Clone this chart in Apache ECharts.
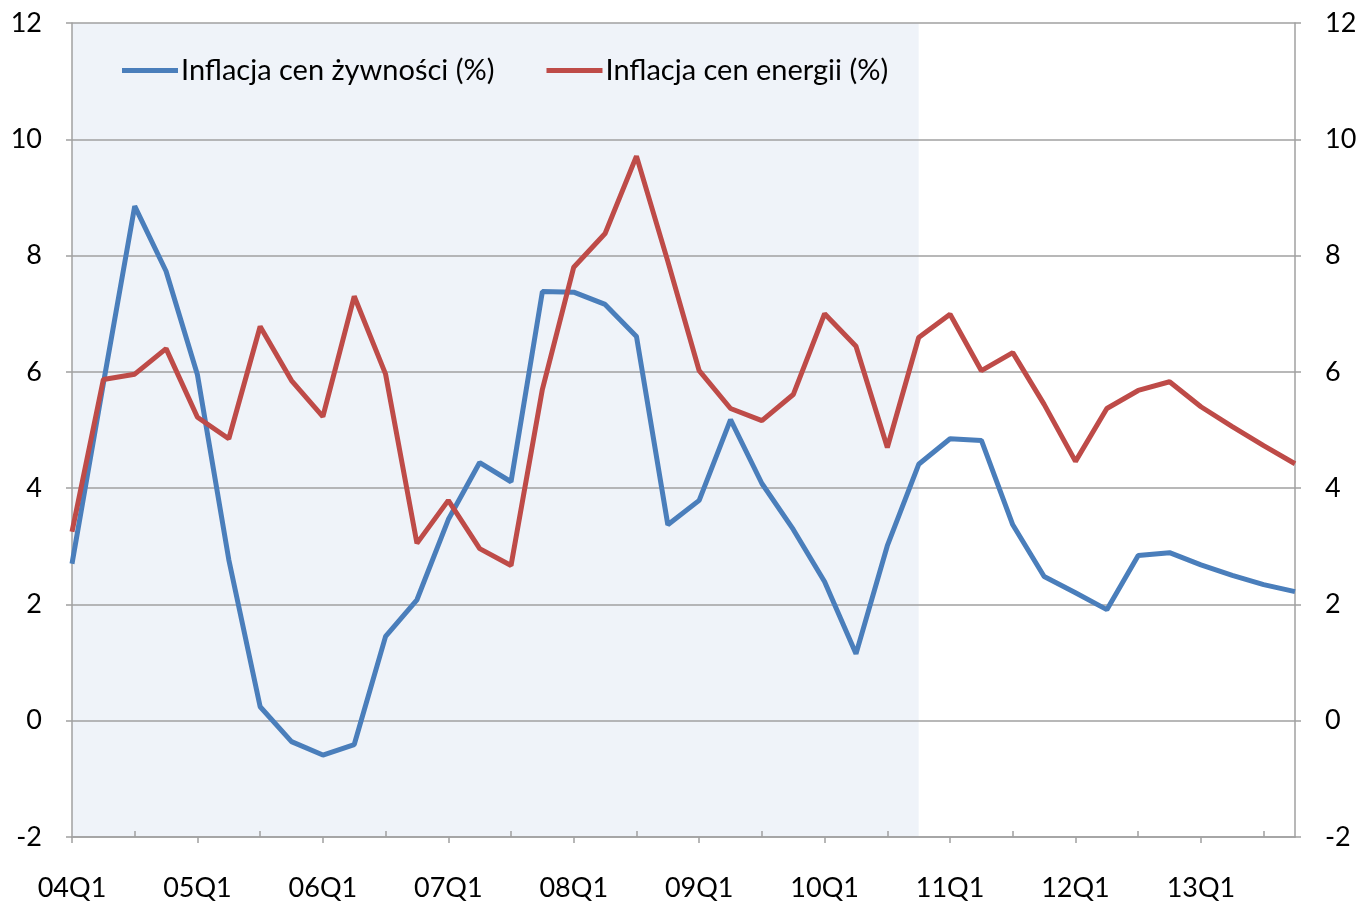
<!DOCTYPE html>
<html>
<head>
<meta charset="utf-8">
<script src="https://cdn.jsdelivr.net/npm/echarts@6/dist/echarts.min.js"></script>
<style>
html,body{margin:0;padding:0;background:#fff;}
#chart{width:1360px;height:904px;}
</style>
</head>
<body>
<div id="chart"></div>
<script>
const quarters = [
  '04Q1','04Q2','04Q3','04Q4','05Q1','05Q2','05Q3','05Q4',
  '06Q1','06Q2','06Q3','06Q4','07Q1','07Q2','07Q3','07Q4',
  '08Q1','08Q2','08Q3','08Q4','09Q1','09Q2','09Q3','09Q4',
  '10Q1','10Q2','10Q3','10Q4','11Q1','11Q2','11Q3','11Q4',
  '12Q1','12Q2','12Q3','12Q4','13Q1','13Q2','13Q3','13Q4'
];
const foodInflation = [
  2.7, 5.8, 8.85, 7.73, 5.95, 2.77, 0.24, -0.36,
  -0.59, -0.41, 1.45, 2.08, 3.46, 4.44, 4.11, 7.38,
  7.37, 7.16, 6.61, 3.37, 3.79, 5.18, 4.08, 3.29,
  2.39, 1.15, 3.01, 4.41, 4.85, 4.82, 3.37, 2.48,
  2.20, 1.91, 2.84, 2.89, 2.68, 2.50, 2.34, 2.22
];
const energyInflation = [
  3.25, 5.87, 5.96, 6.40, 5.22, 4.85, 6.78, 5.85,
  5.23, 7.30, 5.96, 3.05, 3.79, 2.96, 2.67, 5.70,
  7.80, 8.38, 9.71, 7.90, 6.02, 5.37, 5.16, 5.61,
  7.00, 6.44, 4.70, 6.59, 6.99, 6.02, 6.33, 5.44,
  4.46, 5.37, 5.68, 5.83, 5.40, 5.06, 4.73, 4.42
];
const seriesNames = ['Inflacja cen żywności (%)', 'Inflacja cen energii (%)'];
const shadedRange = ['04Q1', '10Q4'];
const yMin = -2, yMax = 12, yStep = 2;

const FONT = 'Lato';
const axisGray = '#a0a0a0';
const chart = echarts.init(document.getElementById('chart'));
chart.setOption({
  animation: false,
  textStyle: { fontFamily: FONT },
  grid: { left: 72, right: 65, top: 23, bottom: 67, containLabel: false },
  legend: {
    data: seriesNames.map(function (n) { return { name: n, icon: 'rect' }; }),
    left: 117, top: 51,
    itemWidth: 56, itemHeight: 5, itemGap: 52,
    textStyle: { fontFamily: FONT, fontSize: 29, color: '#000', padding: [0, 0, 0, -2] }
  },
  xAxis: [{
    type: 'category', data: quarters, boundaryGap: false,
    axisLine: { onZero: false, lineStyle: { color: axisGray, width: 1.5 } },
    axisTick: { interval: 3, length: 6, inside: false, lineStyle: { color: axisGray, width: 1.5 } },
    axisLabel: { interval: 3, margin: 38, fontSize: 27, color: '#000', fontFamily: FONT },
    splitLine: { show: false }
  }, {
    type: 'category', data: quarters, boundaryGap: false, position: 'bottom',
    axisLine: { show: false, onZero: false },
    axisTick: { interval: function (i) { return i % 4 === 2; }, length: 6, inside: true, lineStyle: { color: axisGray, width: 1.5 } },
    axisLabel: { show: false },
    splitLine: { show: false }
  }],
  yAxis: [{
    type: 'value', min: yMin, max: yMax, interval: yStep, position: 'left', z: 1,
    axisLine: { show: true, lineStyle: { color: axisGray, width: 1.5 } },
    axisTick: { show: true, length: 6, lineStyle: { color: axisGray, width: 1.5 } },
    axisLabel: { margin: 30, fontSize: 27, color: '#000', fontFamily: FONT },
    splitLine: { show: true, lineStyle: { color: axisGray, width: 1.5 } }
  }, {
    type: 'value', min: yMin, max: yMax, interval: yStep, position: 'right', z: 1,
    axisLine: { show: true, lineStyle: { color: axisGray, width: 1.5 } },
    axisTick: { show: true, length: 6, lineStyle: { color: axisGray, width: 1.5 } },
    axisLabel: { margin: 30, fontSize: 27, color: '#000', fontFamily: FONT },
    splitLine: { show: false }
  }],
  series: [{
    name: 'shade', type: 'line', data: [], z: 0, silent: true,
    markArea: {
      silent: true, z: 0,
      itemStyle: { color: '#eff3f9' },
      data: [[{ xAxis: shadedRange[0] }, { xAxis: shadedRange[1] }]]
    }
  }, {
    name: seriesNames[0], type: 'line', data: foodInflation,
    symbol: 'none', z: 3,
    lineStyle: { color: '#4a7ebb', width: 5 }, itemStyle: { color: '#4a7ebb' }
  }, {
    name: seriesNames[1], type: 'line', data: energyInflation,
    symbol: 'none', z: 3,
    lineStyle: { color: '#be4b48', width: 5 }, itemStyle: { color: '#be4b48' }
  }]
});
</script>
</body>
</html>
